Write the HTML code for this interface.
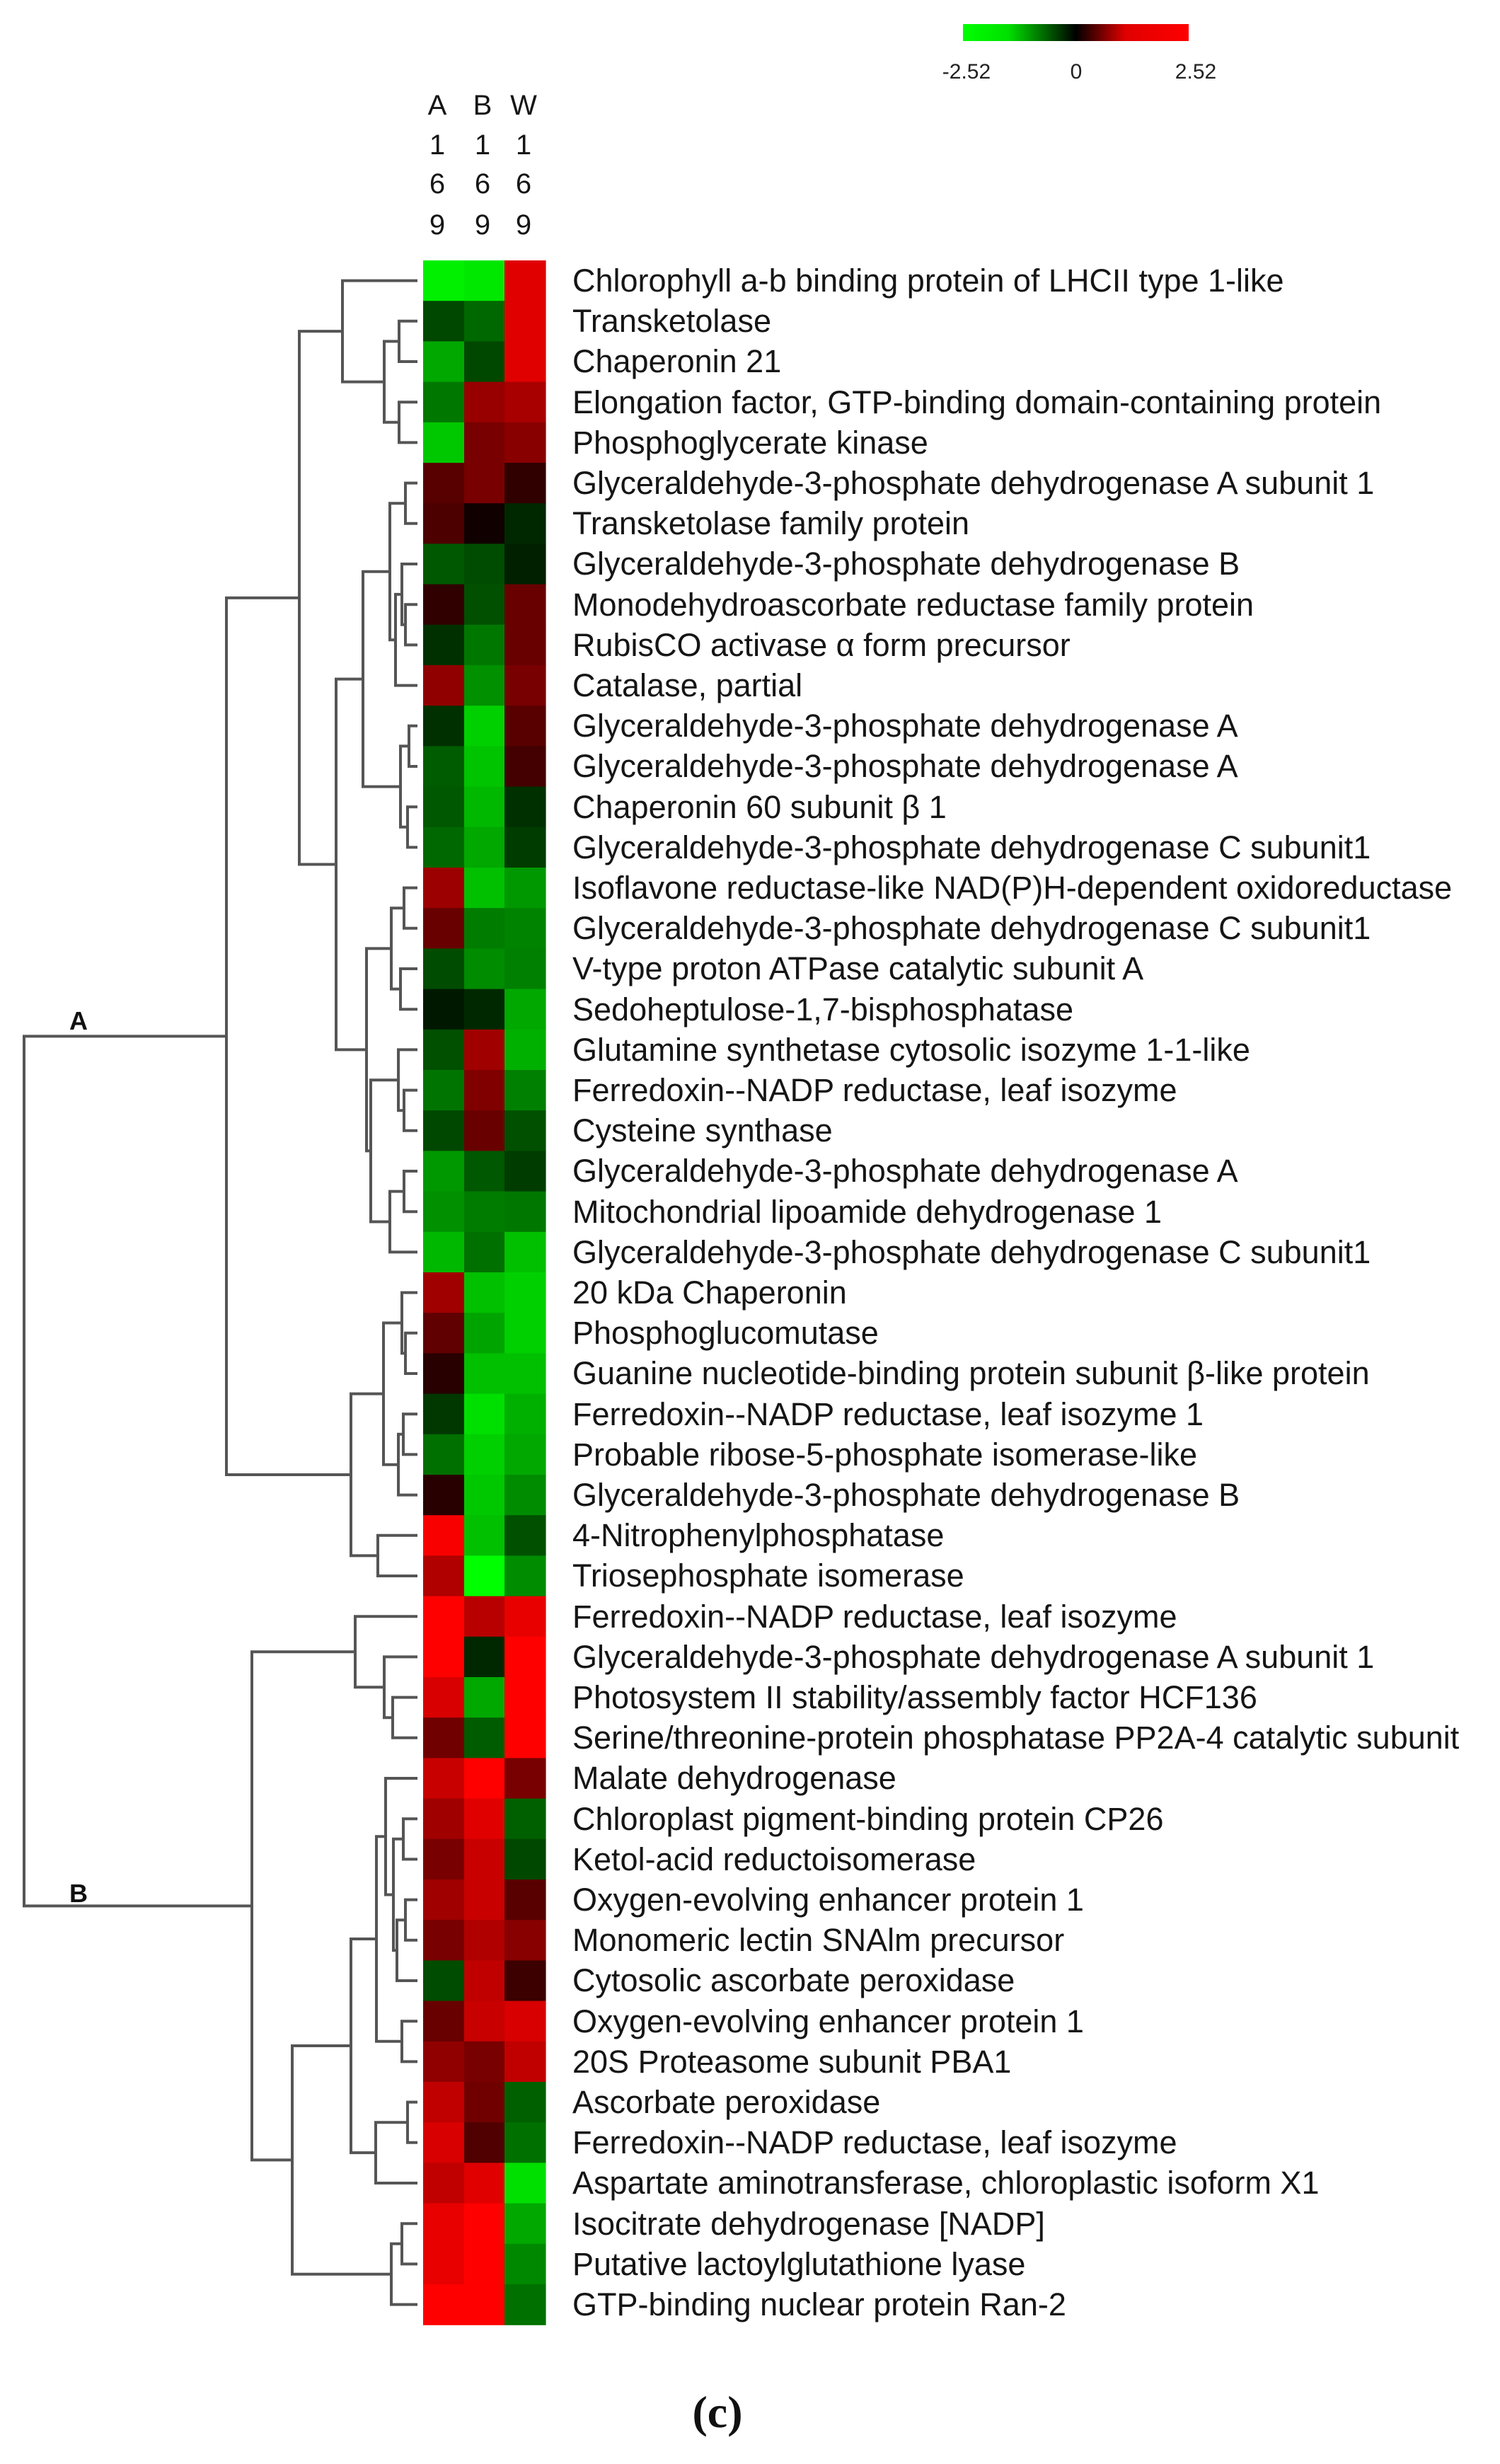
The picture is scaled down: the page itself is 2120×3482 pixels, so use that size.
<!DOCTYPE html>
<html><head><meta charset="utf-8"><style>
html,body{margin:0;padding:0;background:#fff;}
svg{display:block;}
.lb{font-family:"Liberation Sans",sans-serif;font-size:45px;fill:#151515;}
.hd{font-family:"Liberation Sans",sans-serif;font-size:40px;fill:#151515;text-anchor:middle;}
.cb{font-family:"Liberation Sans",sans-serif;font-size:30px;fill:#222;text-anchor:middle;}
</style></head><body>
<svg id="s" width="2120" height="3482" viewBox="0 0 2120 3482" xmlns="http://www.w3.org/2000/svg">
<defs><linearGradient id="g" x1="0" x2="1" y1="0" y2="0">
<stop offset="0" stop-color="#00ff00"/><stop offset="0.2" stop-color="#00e000"/><stop offset="0.5" stop-color="#000"/><stop offset="0.72" stop-color="#e00000"/><stop offset="1" stop-color="#ff0000"/></linearGradient></defs>
<rect x="1361" y="34" width="319" height="24" fill="url(#g)"/>
<text class="cb" x="1366" y="111">-2.52</text>
<text class="cb" x="1521" y="111">0</text>
<text class="cb" x="1690" y="111">2.52</text>
<g class="hd">
<text x="618" y="162">A</text><text x="682" y="162">B</text><text x="740" y="162">W</text>
<text x="618" y="218">1</text><text x="682" y="218">1</text><text x="740" y="218">1</text>
<text x="618" y="273">6</text><text x="682" y="273">6</text><text x="740" y="273">6</text>
<text x="618" y="331">9</text><text x="682" y="331">9</text><text x="740" y="331">9</text>
</g>
<g id="heat"></g>
<g id="dend" stroke="#555" stroke-width="4" fill="none"></g>
<text x="111" y="1455" font-family="Liberation Sans,sans-serif" font-weight="bold" font-size="36" text-anchor="middle" fill="#111">A</text>
<text x="111" y="2688" font-family="Liberation Sans,sans-serif" font-weight="bold" font-size="36" text-anchor="middle" fill="#111">B</text>
<g class="lb" transform="translate(0,2)">
<text x="809" y="410">Chlorophyll a-b binding protein of LHCII type 1-like</text>
<text x="809" y="467">Transketolase</text>
<text x="809" y="524">Chaperonin 21</text>
<text x="809" y="582">Elongation factor, GTP-binding domain-containing protein</text>
<text x="809" y="639">Phosphoglycerate kinase</text>
<text x="809" y="696">Glyceraldehyde-3-phosphate dehydrogenase A subunit 1</text>
<text x="809" y="753">Transketolase family protein</text>
<text x="809" y="810">Glyceraldehyde-3-phosphate dehydrogenase B</text>
<text x="809" y="868">Monodehydroascorbate reductase family protein</text>
<text x="809" y="925">RubisCO activase α form precursor</text>
<text x="809" y="982">Catalase, partial</text>
<text x="809" y="1039">Glyceraldehyde-3-phosphate dehydrogenase A</text>
<text x="809" y="1096">Glyceraldehyde-3-phosphate dehydrogenase A</text>
<text x="809" y="1154">Chaperonin 60 subunit β 1</text>
<text x="809" y="1211">Glyceraldehyde-3-phosphate dehydrogenase C subunit1</text>
<text x="809" y="1268">Isoflavone reductase-like NAD(P)H-dependent oxidoreductase</text>
<text x="809" y="1325">Glyceraldehyde-3-phosphate dehydrogenase C subunit1</text>
<text x="809" y="1382">V-type proton ATPase catalytic subunit A</text>
<text x="809" y="1440">Sedoheptulose-1,7-bisphosphatase</text>
<text x="809" y="1497">Glutamine synthetase cytosolic isozyme 1-1-like</text>
<text x="809" y="1554">Ferredoxin--NADP reductase, leaf isozyme</text>
<text x="809" y="1611">Cysteine synthase</text>
<text x="809" y="1668">Glyceraldehyde-3-phosphate dehydrogenase A</text>
<text x="809" y="1726">Mitochondrial lipoamide dehydrogenase 1</text>
<text x="809" y="1783">Glyceraldehyde-3-phosphate dehydrogenase C subunit1</text>
<text x="809" y="1840">20 kDa Chaperonin</text>
<text x="809" y="1897">Phosphoglucomutase</text>
<text x="809" y="1954">Guanine nucleotide-binding protein subunit β-like protein</text>
<text x="809" y="2012">Ferredoxin--NADP reductase, leaf isozyme 1</text>
<text x="809" y="2069">Probable ribose-5-phosphate isomerase-like</text>
<text x="809" y="2126">Glyceraldehyde-3-phosphate dehydrogenase B</text>
<text x="809" y="2183">4-Nitrophenylphosphatase</text>
<text x="809" y="2240">Triosephosphate isomerase</text>
<text x="809" y="2298">Ferredoxin--NADP reductase, leaf isozyme</text>
<text x="809" y="2355">Glyceraldehyde-3-phosphate dehydrogenase A subunit 1</text>
<text x="809" y="2412">Photosystem II stability/assembly factor HCF136</text>
<text x="809" y="2469">Serine/threonine-protein phosphatase PP2A-4 catalytic subunit</text>
<text x="809" y="2526">Malate dehydrogenase</text>
<text x="809" y="2584">Chloroplast pigment-binding protein CP26</text>
<text x="809" y="2641">Ketol-acid reductoisomerase</text>
<text x="809" y="2698">Oxygen-evolving enhancer protein 1</text>
<text x="809" y="2755">Monomeric lectin SNAlm precursor</text>
<text x="809" y="2812">Cytosolic ascorbate peroxidase</text>
<text x="809" y="2870">Oxygen-evolving enhancer protein 1</text>
<text x="809" y="2927">20S Proteasome subunit PBA1</text>
<text x="809" y="2984">Ascorbate peroxidase</text>
<text x="809" y="3041">Ferredoxin--NADP reductase, leaf isozyme</text>
<text x="809" y="3098">Aspartate aminotransferase, chloroplastic isoform X1</text>
<text x="809" y="3156">Isocitrate dehydrogenase [NADP]</text>
<text x="809" y="3213">Putative lactoylglutathione lyase</text>
<text x="809" y="3270">GTP-binding nuclear protein Ran-2</text>
</g>
<text x="1014" y="3430" font-family="Liberation Serif,serif" font-weight="bold" font-size="64" text-anchor="middle" fill="#111">(c)</text>
</svg>
<script>
var C=[["00f000","00e800","e00000"],["004800","006800","e00000"],["00a800","004800","e00000"],["007800","980000","a80000"],["00c800","780000","880000"],
["580000","780000","300000"],["4c0000","100000","002800"],["005800","004c00","002000"],["300000","005000","680000"],["003000","007800","680000"],
["900000","009000","780000"],["003000","00d000","580000"],["005c00","00c400","440000"],["005800","00b800","003000"],["006800","00a800","003c00"],
["9c0000","00c000","009800"],["680000","007c00","008400"],["004c00","008c00","008000"],["001800","002800","00a800"],["005000","a00000","00b000"],
["007400","800000","008000"],["004800","680000","005000"],["009800","005800","003c00"],["009000","007c00","007800"],["00b800","007000","00c000"],
["a00000","00c000","00d000"],["600000","00a400","00d000"],["280000","00c000","00c000"],["003800","00e000","00b000"],["007000","00d000","00a800"],
["280000","00c800","008c00"],["f80000","00c000","005000"],["b00000","00ff00","008c00"],["ff0000","b80000","e80000"],["ff0000","002800","ff0000"],
["d80000","00a800","ff0000"],["700000","005c00","ff0000"],["c80000","ff0000","780000"],["a00000","e00000","006000"],["780000","c80000","004800"],
["a00000","c80000","580000"],["780000","b00000","880000"],["004c00","c00000","3c0000"],["680000","c80000","d80000"],["900000","780000","c00000"],
["c00000","700000","006000"],["d80000","500000","007000"],["c00000","e00000","00e000"],["e80000","ff0000","00a800"],["e80000","ff0000","008800"],["ff0000","ff0000","007000"]];
var NS="http://www.w3.org/2000/svg",H=57.2,T0=368,xs=[598,656,713,771];
var h=document.getElementById("heat");
for(var i=0;i<C.length;i++)for(var j=0;j<3;j++){var r=document.createElementNS(NS,"rect");
r.setAttribute("x",xs[j]);r.setAttribute("y",T0+H*i);r.setAttribute("width",xs[j+1]-xs[j]+0.6);r.setAttribute("height",H+0.6);r.setAttribute("fill","#"+C[i][j]);h.appendChild(r);}
var A1=[423,[484,0,[543,[564,1,2],[564,3,4]]],[475,[513,[551,[573,5,6],[559,[568,7,[573,8,9]],10]],[566,[578,11,12],[576,13,14]]],[518,[553,[571,15,16],[566,17,18]],[524,[563,19,[571,20,21]],[551,[571,22,23],24]]]]];
var A2=[496,[542,[568,25,[573,26,27]],[563,[570,28,29],30]],[534,31,32]];
var B=[356,[502,33,[543,34,[555,35,36]]],[413,[496,[532,[545,37,[556,[570,38,39],[561,[573,40,41],42]]],[568,43,44]],[531,[576,45,46],47]],[553,[568,48,49],50]]];
var TR=[34,[320,A1,A2],B];
var d="",LX=590;
function w(n){if(typeof n=="number")return{x:LX,y:T0+H*(n+0.5)};
var a=w(n[1]),b=w(n[2]),x=n[0];
d+="M"+a.x+" "+a.y+"H"+x+"V"+b.y+"H"+b.x;return{x:x,y:(a.y+b.y)/2};}
w(TR);
var p=document.createElementNS(NS,"path");p.setAttribute("d",d);document.getElementById("dend").appendChild(p);
</script>
</body></html>
